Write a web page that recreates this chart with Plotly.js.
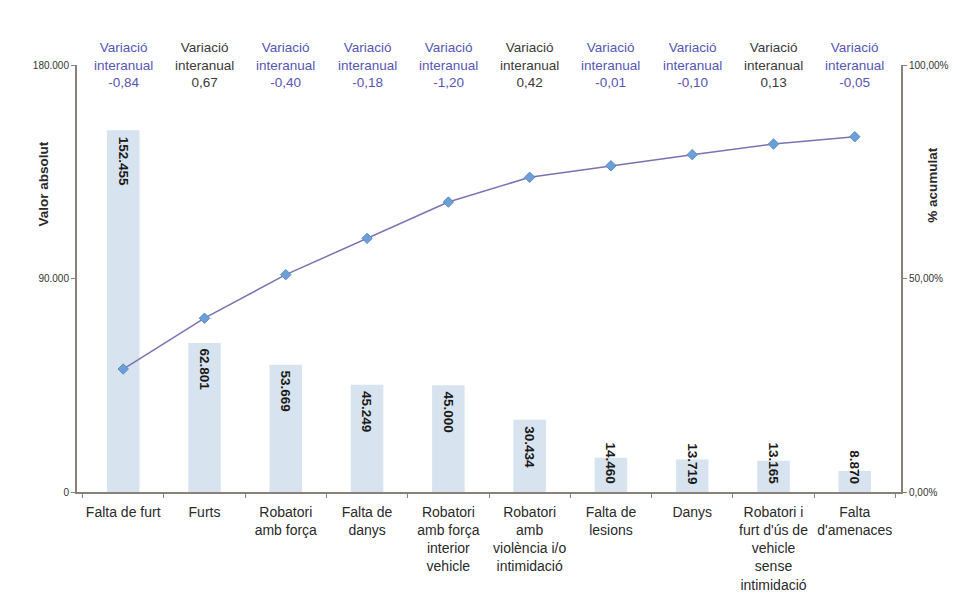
<!DOCTYPE html>
<html>
<head>
<meta charset="utf-8">
<script src="https://cdn.plot.ly/plotly-3.0.1.min.js"></script>
<style>html,body{margin:0;padding:0;background:#fff;}#chart{width:968px;height:597px;}</style>
</head>
<body>
<div id="chart"></div>
<script>
const categories = [
  "Falta de furt",
  "Furts",
  "Robatori<br>amb força",
  "Falta de<br>danys",
  "Robatori<br>amb força<br>interior<br>vehicle",
  "Robatori<br>amb<br>violència i/o<br>intimidació",
  "Falta de<br>lesions",
  "Danys",
  "Robatori i<br>furt d'ús de<br>vehicle<br>sense<br>intimidació",
  "Falta<br>d'amenaces"
];
const values = [152455, 62801, 53669, 45249, 45000, 30434, 14460, 13719, 13165, 8870];
const cumulativePct = [28.8, 40.7, 50.9, 59.4, 67.9, 73.7, 76.4, 79.0, 81.5, 83.2];
const variation = ["-0,84", "0,67", "-0,40", "-0,18", "-1,20", "0,42", "-0,01", "-0,10", "0,13", "-0,05"];
const leftTickVals = [0, 90000, 180000];
const leftTickText = ["0", "90.000", "180.000"];
const rightTickVals = [0, 50, 100];
const rightTickText = ["0,00%", "50,00%", "100,00%"];

const FONT = "Liberation Sans, Arial, sans-serif";
function fmt(v) {
  return String(v).replace(/\B(?=(\d{3})+(?!\d))/g, ".");
}

const barTrace = {
  type: "bar",
  x: categories,
  y: values,
  marker: {color: "#d7e3ef"},
  width: 0.4,
  hoverinfo: "x+y",
  showlegend: false
};
const lineTrace = {
  type: "scatter",
  mode: "lines+markers",
  x: categories,
  y: cumulativePct,
  yaxis: "y2",
  line: {color: "#7a72b4", width: 1.5},
  marker: {symbol: "diamond", size: 8, color: "#6d9fd6", line: {color: "#5a8ccc", width: 1}},
  showlegend: false
};

const annotations = [];
categories.forEach((c, i) => {
  const neg = variation[i].startsWith("-");
  annotations.push({
    xref: "x", yref: "paper", x: c, y: 1.0, yanchor: "middle", xanchor: "center",
    text: "Variació<br>interanual<br>" + variation[i],
    showarrow: false,
    font: {family: FONT, size: 13.5, color: neg ? "#5656b4" : "#3a3a3a"}
  });
  const big = values[i] > 22000;
  annotations.push({
    xref: "x", yref: "y", x: c, y: big ? values[i] : 0,
    yanchor: big ? "top" : "bottom", xanchor: "center",
    yshift: big ? -4 : 6,
    textangle: 90,
    text: "<b>" + fmt(values[i]) + "</b>",
    showarrow: false,
    font: {family: FONT, size: 13.5, color: "#1a1a1a"}
  });
});
annotations.push({
  xref: "paper", yref: "paper", x: -0.04, y: 0.72, xanchor: "center", yanchor: "middle",
  textangle: -90, text: "<b>Valor absolut</b>", showarrow: false,
  font: {family: FONT, size: 13.5, color: "#2a2a2a"}
});
annotations.push({
  xref: "paper", yref: "paper", x: 1.038, y: 0.72, xanchor: "center", yanchor: "middle",
  textangle: -90, text: "<b>% acumulat</b>", showarrow: false,
  font: {family: FONT, size: 13.5, color: "#2a2a2a"}
});

const axisColor = "#8a8179";
const layout = {
  width: 968, height: 597,
  margin: {l: 77, r: 67, t: 65, b: 105},
  paper_bgcolor: "#ffffff",
  plot_bgcolor: "#ffffff",
  font: {family: FONT, color: "#333"},
  bargap: 0.6,
  xaxis: {
    type: "category",
    tickson: "boundaries",
    tickangle: 0,
    ticks: "outside", ticklen: 4, tickcolor: axisColor,
    ticklabelstandoff: 6,
    showline: true, linecolor: axisColor, linewidth: 2,
    showgrid: false, zeroline: false,
    tickfont: {family: FONT, size: 14, color: "#2a2a2a"},
    automargin: false,
    fixedrange: true
  },
  yaxis: {
    range: [0, 180000],
    tickvals: leftTickVals, ticktext: leftTickText,
    ticks: "outside", ticklen: 4, tickcolor: axisColor,
    showline: true, linecolor: axisColor, linewidth: 2,
    showgrid: false, zeroline: false,
    tickfont: {family: FONT, size: 10, color: "#333"}
  },
  yaxis2: {
    range: [0, 100],
    overlaying: "y", side: "right",
    tickvals: rightTickVals, ticktext: rightTickText,
    ticks: "outside", ticklen: 4, tickcolor: axisColor,
    showline: true, linecolor: axisColor, linewidth: 2,
    showgrid: false, zeroline: false,
    tickfont: {family: FONT, size: 10, color: "#333"}
  },
  annotations: annotations
};

Plotly.newPlot("chart", [barTrace, lineTrace], layout, {displayModeBar: false, staticPlot: true});
</script>
</body>
</html>
